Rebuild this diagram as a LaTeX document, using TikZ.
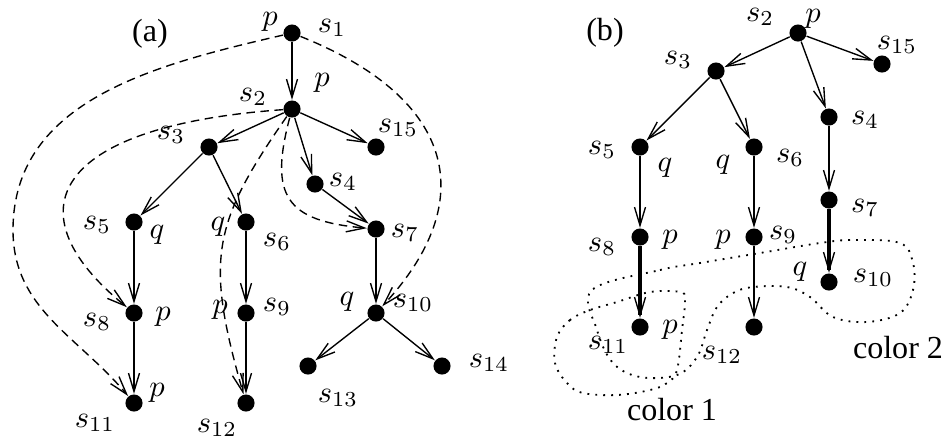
\documentclass[tikz,border=0pt]{standalone}
\usepackage[no-math]{fontspec}
\setmainfont{Liberation Serif}
\usetikzlibrary{arrows.meta}

\begin{document}
\begin{tikzpicture}[x=0.0115cm,y=-0.0115cm,
  state/.style={circle,fill=black,inner sep=0pt,minimum size=5.6pt},
  lbl/.style={inner sep=0pt},
  word/.style={inner sep=0pt,font=\fontsize{10.5}{12}\selectfont},
  tr/.style={-{Straight Barb[length=6pt,width=3.6pt,line width=0.45pt]},line width=0.45pt},
  heavy/.style={tr,line width=1.1pt},
  jump/.style={tr,dash pattern=on 2.8pt off 1.8pt},
  colour/.style={dotted,line width=0.6pt}
]
  \useasboundingbox (0,0) rectangle (949,445);

  % (a) the unwound tree
  \node[word] (atitle) at (150,34) {(a)};
  \node[state] (a1)  at (292,33)  {};
  \node[state] (a2)  at (292,109) {};
  \node[state] (a3)  at (209,147) {};
  \node[state] (a15) at (376,147) {};
  \node[state] (a4)  at (315,184) {};
  \node[state] (a5)  at (134,222) {};
  \node[state] (a6)  at (246,222) {};
  \node[state] (a7)  at (376,229) {};
  \node[state] (a8)  at (134,313) {};
  \node[state] (a9)  at (246,313) {};
  \node[state] (a10) at (376,313) {};
  \node[state] (a13) at (308,366) {};
  \node[state] (a14) at (442,366) {};
  \node[state] (a11) at (134,403) {};
  \node[state] (a12) at (246,403) {};
  \coordinate (a1w) at (13,230);

  \node[lbl] (a1p)  at (270,22)  {$p$};
  \node[lbl] (a1n)  at (332,28)  {$s_1$};
  \node[lbl] (a2p)  at (322,83)  {$p$};
  \node[lbl] (a2n)  at (253,97)  {$s_2$};
  \node[lbl] (a3n)  at (171,135) {$s_3$};
  \node[lbl] (a15n) at (398,128) {$s_{15}$};
  \node[lbl] (a4n)  at (343,182) {$s_4$};
  \node[lbl] (a5n)  at (97,225)  {$s_5$};
  \node[lbl] (a5p)  at (157,235) {$q$};
  \node[lbl] (a6p)  at (218,227) {$q$};
  \node[lbl] (a6n)  at (277,242) {$s_6$};
  \node[lbl] (a7n)  at (405,233) {$s_7$};
  \node[lbl] (a10p) at (347,302) {$q$};
  \node[lbl] (a10n) at (413,303) {$s_{10}$};
  \node[lbl] (a8n)  at (97,322)  {$s_8$};
  \node[lbl] (a8p)  at (163,317) {$p$};
  \node[lbl] (a9p)  at (220,310) {$p$};
  \node[lbl] (a9n)  at (277,307) {$s_9$};
  \node[lbl] (a13n) at (338,398) {$s_{13}$};
  \node[lbl] (a14n) at (489,363) {$s_{14}$};
  \node[lbl] (a11p) at (157,393) {$p$};
  \node[lbl] (a11n) at (95,423)  {$s_{11}$};
  \node[lbl] (a12n) at (217,428) {$s_{12}$};

  \draw[tr] (a1)--(a2);
  \draw[tr] (a2)--(a3);
  \draw[tr] (a2)--(a15);
  \draw[tr] (a2)--(a4);
  \draw[tr] (a3)--(a5);
  \draw[tr] (a3)--(a6);
  \draw[tr] (a4)--(a7);
  \draw[tr] (a5)--(a8);
  \draw[tr] (a6)--(a9);
  \draw[tr] (a7)--(a10);
  \draw[tr] (a8)--(a11);
  \draw[tr] (a9)--(a12);
  \draw[tr] (a10)--(a13);
  \draw[tr] (a10)--(a14);

  \draw[jump] (a1) to[out=193,in=90] (a1w) to[out=-90,in=130] (a11);
  \draw[jump] (a1) .. controls (459,100) and (478,203) .. (a10);
  \draw[jump] (a2) .. controls (52,126) and (10,212) .. (a8);
  \draw[jump] (a2) .. controls (212,224) and (205,259) .. (a12);
  \draw[jump] (a2) .. controls (269,196) and (286,221) .. (a7);

  % (b) the coloured tree
  \node[word] (btitle) at (605,33) {(b)};
  \node[state] (b2)  at (798,33)  {};
  \node[state] (b3)  at (716,71)  {};
  \node[state] (b15) at (882,64)  {};
  \node[state] (b4)  at (829,117) {};
  \node[state] (b5)  at (640,147) {};
  \node[state] (b6)  at (754,147) {};
  \node[state] (b7)  at (829,200) {};
  \node[state] (b8)  at (640,237) {};
  \node[state] (b9)  at (754,237) {};
  \node[state] (b10) at (829,282) {};
  \node[state] (b11) at (640,327) {};
  \node[state] (b12) at (754,327) {};

  \node[lbl] (b2n)  at (760,17)  {$s_2$};
  \node[lbl] (b2p)  at (813,19)  {$p$};
  \node[lbl] (b15n) at (897,45)  {$s_{15}$};
  \node[lbl] (b3n)  at (678,60)  {$s_3$};
  \node[lbl] (b4n)  at (865,120) {$s_4$};
  \node[lbl] (b5n)  at (602,150) {$s_5$};
  \node[lbl] (b5p)  at (665,168) {$q$};
  \node[lbl] (b6p)  at (723,165) {$q$};
  \node[lbl] (b6n)  at (790,158) {$s_6$};
  \node[lbl] (b7n)  at (865,208) {$s_7$};
  \node[lbl] (b8n)  at (602,247) {$s_8$};
  \node[lbl] (b8p)  at (670,240) {$p$};
  \node[lbl] (b9p)  at (723,240) {$p$};
  \node[lbl] (b9n)  at (783,235) {$s_9$};
  \node[lbl] (b10p) at (800,272) {$q$};
  \node[lbl] (b10n) at (873,278) {$s_{10}$};
  \node[lbl] (b11n) at (608,345) {$s_{11}$};
  \node[lbl] (b11p) at (670,330) {$p$};
  \node[lbl] (b12n) at (722,355) {$s_{12}$};
  \node[word] (c2)  at (898,348) {color 2};
  \node[word] (c1)  at (672,410) {color 1};

  \draw[tr] (b2)--(b3);
  \draw[tr] (b2)--(b15);
  \draw[tr] (b2)--(b4);
  \draw[tr] (b3)--(b5);
  \draw[tr] (b3)--(b6);
  \draw[tr] (b4)--(b7);
  \draw[tr] (b5)--(b8);
  \draw[tr] (b6)--(b9);
  \draw[heavy] (b7)--(b10);
  \draw[heavy] (b8)--(b11);
  \draw[tr] (b9)--(b12);

  \draw[colour] plot[smooth cycle,tension=0.6] coordinates {(590,310) (570,320) (557,337)
    (555,363) (567,383) (583,393) (617,395) (650,390) (667,383) (677,370) (682,330)
    (685,300) (680,292) (650,292) (617,302)};
  \draw[colour] plot[smooth cycle,tension=0.6] coordinates {(592,290) (660,270) (700,263)
    (760,253) (820,243) (853,240) (900,243) (913,263) (913,290) (900,313) (867,322)
    (833,317) (810,297) (787,287) (753,287) (733,293) (717,307) (707,330) (697,357)
    (677,375) (640,377) (613,363) (597,330)};
\end{tikzpicture}
\end{document}
